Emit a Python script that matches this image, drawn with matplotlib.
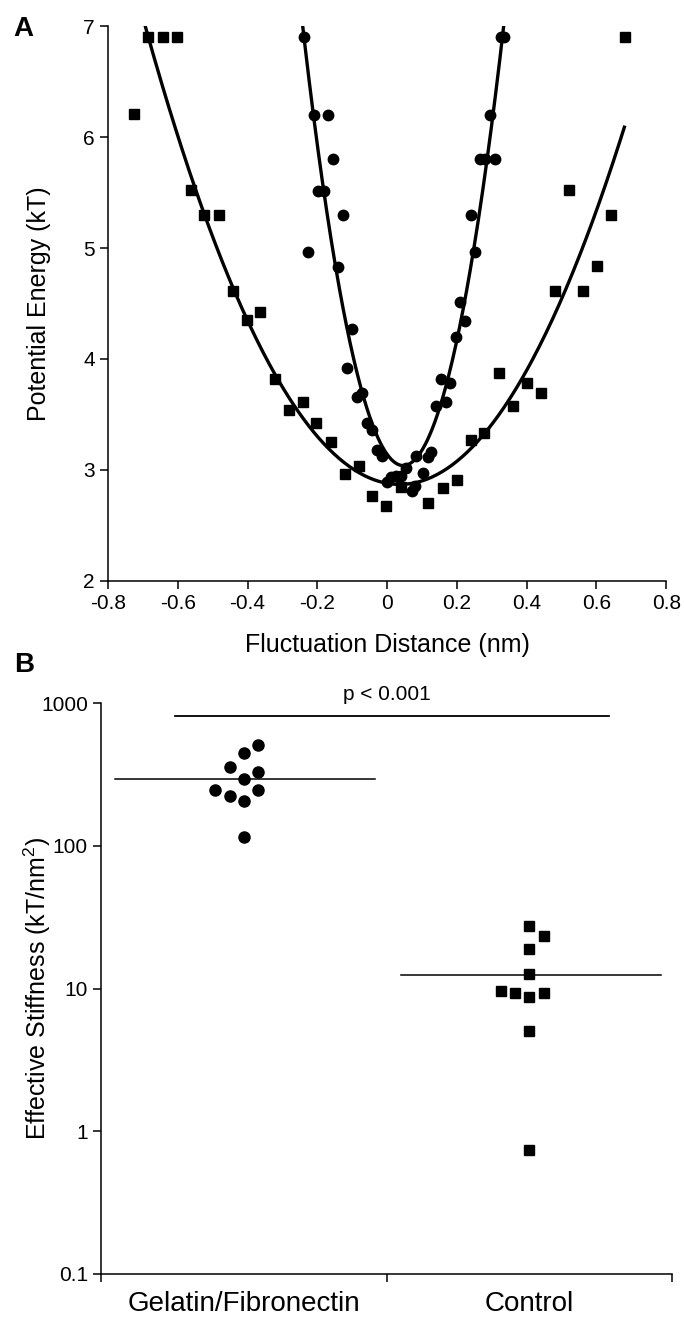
import numpy as np
import matplotlib
matplotlib.use('Agg')
import matplotlib.pyplot as plt

plt.rcParams['font.family'] = ['Liberation Sans', 'DejaVu Sans']
plt.rcParams['mathtext.default'] = 'regular'

# Panel A: potential energy vs fluctuation distance
# control cells (squares)
sq_x = [-0.725, -0.685, -0.643, -0.603, -0.562, -0.524, -0.483, -0.443, -0.402, -0.364,
        -0.322, -0.282, -0.242, -0.203, -0.162, -0.121, -0.081, -0.042, -0.002, 0.039,
        0.118, 0.159, 0.199, 0.241, 0.279, 0.320, 0.361, 0.401, 0.440, 0.481,
        0.521, 0.562, 0.601, 0.642, 0.682]
sq_y = [6.21, 6.9, 6.9, 6.9, 5.52, 5.30, 5.30, 4.61, 4.35, 4.42,
        3.82, 3.54, 3.61, 3.42, 3.25, 2.96, 3.04, 2.77, 2.68, 2.85,
        2.70, 2.84, 2.91, 3.27, 3.33, 3.87, 3.58, 3.78, 3.69, 4.61,
        5.52, 4.61, 4.84, 5.30, 6.9]
# gelatin/fibronectin cells (circles)
ci_x = [-0.239, -0.226, -0.210, -0.199, -0.181, -0.170, -0.154, -0.140, -0.127, -0.114,
        -0.100, -0.085, -0.071, -0.057, -0.044, -0.028, -0.015, 0.001, 0.011, 0.025,
        0.039, 0.054, 0.071, 0.081, 0.084, 0.102, 0.116, 0.126, 0.140, 0.153,
        0.169, 0.181, 0.196, 0.210, 0.224, 0.239, 0.253, 0.265, 0.280, 0.296,
        0.308, 0.325, 0.335]
ci_y = [6.9, 4.96, 6.2, 5.51, 5.51, 6.2, 5.8, 4.83, 5.30, 3.92,
        4.27, 3.66, 3.69, 3.42, 3.36, 3.18, 3.13, 2.89, 2.94, 2.95,
        2.95, 3.02, 2.81, 2.86, 3.13, 2.97, 3.12, 3.16, 3.58, 3.82,
        3.61, 3.78, 4.20, 4.51, 4.34, 5.30, 4.96, 5.8, 5.8, 6.2,
        5.8, 6.9, 6.9]
# harmonic fits: curvature, centre, minimum
sq_fit = [7.76, 0.036, 2.87]
ci_fit = [47.7, 0.046, 3.04]

# Panel B: effective stiffness
groups = ['Gelatin/Fibronectin', 'Control']
gf_vals = [508, 449, 355, 330, 294, 246, 224, 246, 207, 115]
gf_off = [0.05, 0.0, -0.05, 0.05, 0.0, -0.1, -0.05, 0.05, 0.0, 0.0]
ctl_vals = [27.5, 23.3, 18.8, 12.6, 9.66, 9.25, 8.67, 9.25, 5.06, 0.74]
ctl_off = [0.0, 0.05, 0.0, 0.0, -0.1, -0.05, 0.0, 0.05, 0.0, 0.0]
gf_median = 293
ctl_median = 12.4
p_text = 'p < 0.001'

fig = plt.figure(figsize=(6.84, 13.21), dpi=100)

# ---- A ----
axA = fig.add_axes([0.158, 0.5602, 0.816, 0.4201])
xx = np.linspace(-0.75, 0.68, 300)
axA.plot(xx, sq_fit[0] * (xx - sq_fit[1]) ** 2 + sq_fit[2], color='black', lw=2.4)
xx2 = np.linspace(-0.26, 0.345, 300)
axA.plot(xx2, ci_fit[0] * (xx2 - ci_fit[1]) ** 2 + ci_fit[2], color='black', lw=2.4)
axA.plot(sq_x, sq_y, 's', color='black', ms=7.2, ls='none', clip_on=False)
axA.plot(ci_x, ci_y, 'o', color='black', ms=7.5, ls='none', clip_on=False)
axA.set_xlim(-0.8, 0.8)
axA.set_ylim(2, 7)
xt = [-0.8, -0.6, -0.4, -0.2, 0, 0.2, 0.4, 0.6, 0.8]
axA.set_xticks(xt, ['-0.8', '-0.6', '-0.4', '-0.2', '0', '0.2', '0.4', '0.6', '0.8'])
axA.set_yticks([2, 3, 4, 5, 6, 7])
axA.set_xlabel('Fluctuation Distance (nm)', fontsize=18, va='center')
axA.xaxis.set_label_coords(0.5, -0.115)
axA.set_ylabel('Potential Energy (kT)', fontsize=18, va='center')
axA.yaxis.set_label_coords(-0.123, 0.5)

# ---- B ----
axB = fig.add_axes([0.1477, 0.0356, 0.8348, 0.4322])
axB.set_yscale('log')
axB.plot(0.5 + np.array(gf_off), gf_vals, 'o', color='black', ms=8, ls='none')
axB.plot(1.5 + np.array(ctl_off), ctl_vals, 's', color='black', ms=7.2, ls='none')
axB.plot([0.05, 0.96], [gf_median, gf_median], color='black', lw=1.1)
axB.plot([1.05, 1.96], [ctl_median, ctl_median], color='black', lw=1.1)
axB.plot([0.26, 1.78], [815, 815], color='black', lw=1.3, clip_on=False)
axB.text(1.0, 1140, p_text, ha='center', va='center', fontsize=15)
axB.set_xlim(0, 2)
axB.set_ylim(0.1, 1000)
axB.set_yticks([0.1, 1, 10, 100, 1000], ['0.1', '1', '10', '100', '1000'])
axB.yaxis.set_minor_locator(matplotlib.ticker.NullLocator())
axB.set_xticks([0, 1, 2], ['', '', ''])
axB.set_xticks([0.5, 1.5], groups, minor=True)
axB.tick_params(axis='x', which='minor', length=0, labelsize=20, pad=12)
axB.set_ylabel('Effective Stiffness (kT/nm$^2$)', fontsize=18, va='center')
axB.yaxis.set_label_coords(-0.112, 0.5)

for ax in (axA, axB):
    for s in ('top', 'right'):
        ax.spines[s].set_visible(False)
    for s in ('left', 'bottom'):
        ax.spines[s].set_linewidth(1.1)
    ax.tick_params(which='major', direction='out', length=6, width=1.1, labelsize=15, color='black')

fig.text(0.034, 1 - 29 / 1321, 'A', fontsize=20, fontweight='bold', ha='center', va='center')
fig.text(0.035, 1 - 665 / 1321, 'B', fontsize=20, fontweight='bold', ha='center', va='center')

fig.savefig('out.png', dpi=100)
